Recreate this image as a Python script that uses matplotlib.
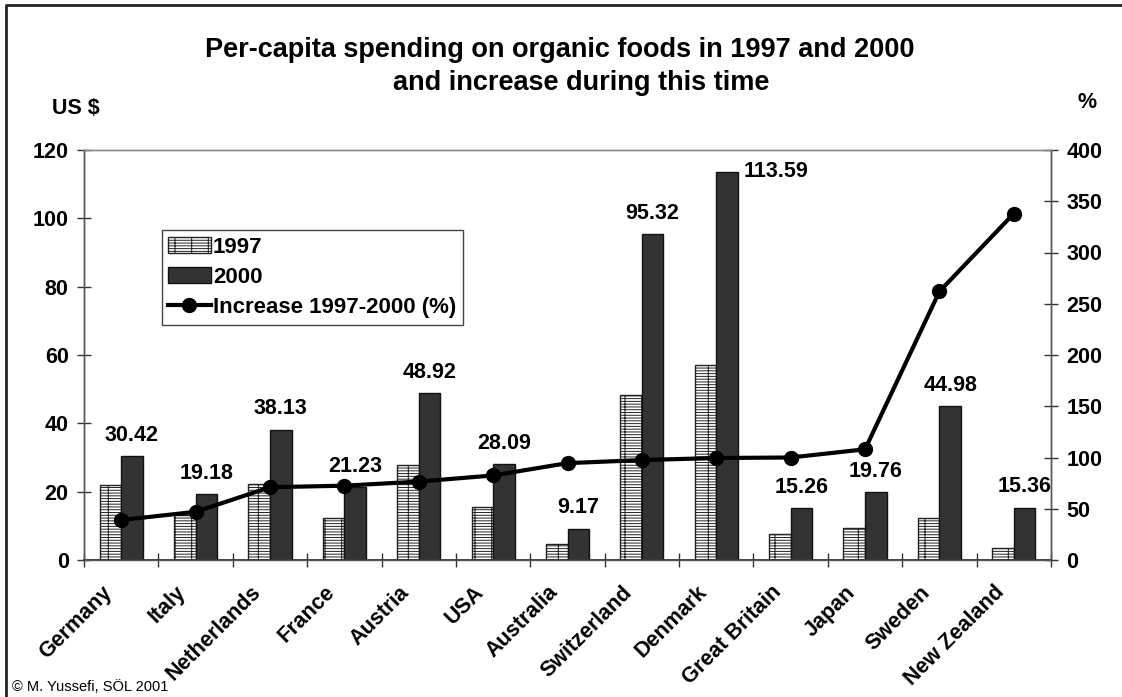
"""Per-capita spending on organic foods, 1997 vs 2000, with increase line."""

import matplotlib

matplotlib.use("Agg")
import matplotlib.pyplot as plt
import numpy as np
from matplotlib.lines import Line2D
from matplotlib.patches import Patch
from matplotlib.transforms import ScaledTranslation

countries = [
    "Germany", "Italy", "Netherlands", "France", "Austria", "USA", "Australia",
    "Switzerland", "Denmark", "Great Britain", "Japan", "Sweden", "New Zealand",
]
spend_1997 = [21.9, 13.05, 22.3, 12.3, 27.7, 15.4, 4.72, 48.2, 57.0, 7.64, 9.5, 12.4, 3.5]
spend_2000 = [30.42, 19.18, 38.13, 21.23, 48.92, 28.09, 9.17, 95.32, 113.59, 15.26, 19.76, 44.98, 15.36]
increase_pct = [39, 47, 71, 72.5, 76.5, 82.5, 94.5, 97.5, 99.5, 100, 108, 262, 338]
left_ticks = [0, 20, 40, 60, 80, 100, 120]
right_ticks = [0, 50, 100, 150, 200, 250, 300, 350, 400]

SANS = ["Liberation Sans", "DejaVu Sans"]
BOLD = dict(family=SANS, fontweight="bold")
FS = 15.5
HATCH = "------|"
plt.rcParams["hatch.linewidth"] = 0.7
plt.rcParams["font.family"] = SANS

W, H = 1122, 697
fig = plt.figure(figsize=(W / 100, H / 100), dpi=100)
ax = fig.add_axes([84 / W, 1 - 560 / H, (1051 - 84) / W, (560 - 150) / H])
ax2 = ax.twinx()

x = np.arange(len(countries))
bw = 0.29
ax.bar(x - bw / 2, spend_1997, bw, facecolor="white", edgecolor="#222222",
       linewidth=1.0, hatch=HATCH, zorder=2)
ax.bar(x + bw / 2, spend_2000, bw, facecolor="#333333", edgecolor="#111111",
       linewidth=1.0, zorder=2)

# value labels above the 2000 bars (Denmark sits beside its bar)
for xi, v in zip(x, spend_2000):
    if v > 110:
        ax.annotate(f"{v:.2f}", (xi + bw, v), xytext=(4, 0), textcoords="offset points",
                    ha="left", va="center", fontsize=FS, zorder=5, **BOLD)
    else:
        ax.annotate(f"{v:.2f}", (xi + bw / 2, v), xytext=(0, 11), textcoords="offset points",
                    ha="center", va="baseline", fontsize=FS, zorder=5, **BOLD)

ax2.plot(x, increase_pct, color="black", linewidth=3, marker="o", markersize=10, zorder=4)

ax.set_xlim(-0.5, len(countries) - 0.5)
ax.set_ylim(0, 120)
ax2.set_ylim(0, 400)
ax.set_yticks(left_ticks)
ax2.set_yticks(right_ticks)
ax.set_yticklabels([str(t) for t in left_ticks], fontsize=FS, fontweight="bold")
ax2.set_yticklabels([str(t) for t in right_ticks], fontsize=FS, fontweight="bold")

ax.set_xticks(x)
ax.set_xticklabels(countries, rotation=45, ha="right", va="center",
                   rotation_mode="anchor", fontsize=FS, fontweight="bold")
ax.set_xticks(np.arange(-0.5, len(countries)), minor=True)
ax.tick_params(axis="x", which="major", length=0, pad=21)
ax.tick_params(axis="x", which="minor", direction="inout", length=10, width=1, color="#333333")
ax.tick_params(axis="y", direction="inout", length=10, width=1, color="#333333", pad=6)
ax2.tick_params(axis="y", direction="inout", length=10, width=1, color="#333333", pad=6)
shift = ScaledTranslation(-9 / 72, 0, fig.dpi_scale_trans)
for lbl in ax.get_xticklabels():
    lbl.set_transform(lbl.get_transform() + shift)

for a in (ax, ax2):
    for sp in a.spines.values():
        sp.set_color("#555555")
        sp.set_linewidth(1.0)
    a.spines["top"].set_color("#888888")
ax.spines["bottom"].set_color("#333333")
ax.spines["bottom"].set_linewidth(1.3)

handles = [
    Patch(facecolor="white", edgecolor="#222222", hatch=HATCH, linewidth=1.0),
    Patch(facecolor="#333333", edgecolor="#111111", linewidth=1.0),
    Line2D([], [], color="black", linewidth=3, marker="o", markersize=10),
]
leg = ax2.legend(handles, ["1997", "2000", "Increase 1997-2000 (%)"],
                 loc="upper left", bbox_to_anchor=(0.0803, 0.805), borderaxespad=0,
                 frameon=True, fancybox=False, framealpha=1, edgecolor="#444444",
                 prop=dict(family=SANS, weight="bold", size=16),
                 handlelength=1.9, handleheight=0.75, handletextpad=0.1,
                 labelspacing=0.42, borderpad=0.3)
leg.get_frame().set_linewidth(1.0)

fig.text(560 / W, 1 - 50 / H, "Per-capita spending on organic foods in 1997 and 2000",
         ha="center", va="center", fontsize=19.5, fontweight="bold")
fig.text(581 / W, 1 - 83 / H, "and increase during this time",
         ha="center", va="center", fontsize=19.5, fontweight="bold")
fig.text(52 / W, 1 - 108 / H, "US $", ha="left", va="center", fontsize=FS, **BOLD)
fig.text(1087 / W, 1 - 103 / H, "%", ha="center", va="center", fontsize=FS, **BOLD)
fig.text(12 / W, 1 - 687 / H, "\u00a9 M. Yussefi, S\u00d6L 2001", ha="left", va="center",
         fontsize=10.5, family=SANS)

# frame around the slide (only left and top edges are visible)
fig.add_artist(Line2D([6 / W, 6 / W, 1], [0, 1 - 5 / H, 1 - 5 / H],
                      transform=fig.transFigure, color="#222222", linewidth=2))

fig.savefig("out.png", dpi=100)
plt.close(fig)
